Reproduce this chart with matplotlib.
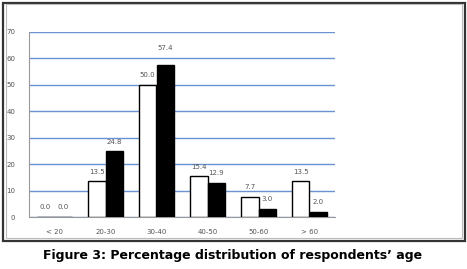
import numpy as np
import matplotlib.pyplot as plt
from matplotlib.patches import Rectangle

# data
categories = ["< 20", "20-30", "30-40", "40-50", "50-60", "> 60"]
series_white = [0.0, 13.5, 50.0, 15.4, 7.7, 13.5]
series_black = [0.0, 24.8, 57.4, 12.9, 3.0, 2.0]
y_ticks = [0, 10, 20, 30, 40, 50, 60, 70]

W, H = 467, 269
fig = plt.figure(figsize=(W / 100, H / 100), dpi=100)

# frame around the chart
fig.patches.append(Rectangle((3 / W, 1 - 241 / H), 462 / W, 238 / H, transform=fig.transFigure,
                             fill=False, edgecolor="#333333", linewidth=1.6))
fig.patches.append(Rectangle((6 / W, 1 - 238 / H), 456 / W, 234 / H, transform=fig.transFigure,
                             fill=False, edgecolor="#bbbbbb", linewidth=0.8))

ax = fig.add_axes([29 / W, 1 - 217 / H, 306 / W, 185 / H])
x = np.arange(len(categories))
w = 0.35
b1 = ax.bar(x - w / 2, series_white, w, color="white", edgecolor="black", linewidth=1.0, zorder=3)
b2 = ax.bar(x + w / 2, series_black, w, color="black", edgecolor="black", linewidth=1.0, zorder=3)

for bars, vals in ((b1, series_white), (b2, series_black)):
    for r, v in zip(bars, vals):
        off = 5.5 if v == max(series_black) else 2.5
        ax.text(r.get_x() + r.get_width() / 2, v + off, f"{v:.1f}", ha="center", va="bottom",
                fontsize=5, color="#555555", zorder=4)

ax.set_xlim(-0.5, len(categories) - 0.5)
ax.set_ylim(0, 70)
ax.set_yticks(y_ticks)
ax.set_xticks(x)
ax.set_xticklabels(categories)
ax.tick_params(axis="both", labelsize=5, labelcolor="#555555", length=0)
ax.tick_params(axis="x", pad=9)
ax.tick_params(axis="y", pad=10)
ax.yaxis.grid(True, color="#6a93d4", linewidth=1.0, zorder=0)
for s in ("top", "right"):
    ax.spines[s].set_visible(False)
ax.spines["left"].set_color("#999999")
ax.spines["bottom"].set_color("#999999")

fig.text(233 / W, 1 - 256 / H, "Figure 3: Percentage distribution of respondents\u2019 age",
         ha="center", va="center", fontsize=9, fontweight="bold", color="black")

fig.savefig("out.png", dpi=100)
